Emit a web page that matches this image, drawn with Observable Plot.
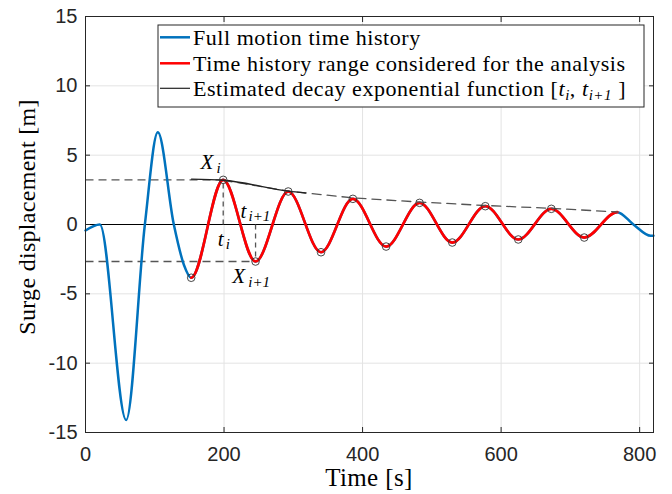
<!DOCTYPE html>
<html><head><meta charset="utf-8">
<script src="https://cdn.jsdelivr.net/npm/d3@7"></script>
<script src="https://cdn.jsdelivr.net/npm/@observablehq/plot@0.6"></script>
<style>
html,body{margin:0;padding:0;background:#fff;}
#chart{width:672px;height:494px;}
</style></head><body><div id="chart"></div>
<script>
// ---- data ----
const fullT = [0, 20.7, 58.7, 85.7, 104.4, 127.5, 142, 152.6, 198.8, 245.5, 292.7, 340, 386, 434, 482.3, 529.5, 577.2, 624.8, 672.5, 720, 767.7, 791, 816, 820];
const fullV = [-0.43, 0.0, -14.1, 0.0, 6.65, 0.0, -2.9, -3.84, 3.22, -2.67, 2.38, -2.0, 1.85, -1.59, 1.56, -1.30, 1.32, -1.08, 1.13, -0.94, 0.89, 0.0, -0.82, -0.81];
const redT = [152.6, 198.8, 245.5, 292.7, 340, 386, 434, 482.3, 529.5, 577.2, 624.8, 672.5, 720, 767.7];
const redV = [-3.84, 3.22, -2.67, 2.38, -2.0, 1.85, -1.59, 1.56, -1.30, 1.32, -1.08, 1.13, -0.94, 0.89];
const circT = [152.6, 198.8, 245.5, 292.7, 340, 386, 434, 482.3, 529.5, 577.2, 624.8, 672.5, 720];
const circV = [-3.84, 3.22, -2.67, 2.38, -2.0, 1.85, -1.59, 1.56, -1.30, 1.32, -1.08, 1.13, -0.94];
const decayT = [153, 198.8, 292.7, 317.7];
const decayV = [3.27, 3.19, 2.41, 2.27];
const envT = [198.8, 292.7, 386, 482.3, 577.2, 672.5, 767.7];
const envV = [3.19, 2.41, 1.92, 1.62, 1.37, 1.17, 0.90];
const hDashV = [3.22, -2.67];
const hDashT1 = [0, 0];
const hDashT2 = [198.8, 245.5];
const vDashT = [198.8, 245.5];
const vDashV1 = [0, 0];
const vDashV2 = [3.22, -2.67];
const annMain = ["X", "t", "t", "X"];
const annSub = ["i", "i+1", "i", "i+1"];
const annT = [166, 223.8, 191, 211.8];
const annV = [4.46, 0.94, -1.08, -3.71];
const xTicks = [0, 200, 400, 600, 800];
const yTicks = [-15, -10, -5, 0, 5, 10, 15];
const legendLabels = ["Full motion time history", "Time history range considered for the analysis", "Estimated decay exponential function "];
const xTitle = "Time [s]";
const yTitle = "Surge displacement [m]";

// ---- tables ----
const full = fullT.map((t, i) => ({t, v: fullV[i]}));
const red = redT.map((t, i) => ({t, v: redV[i]}));
const circ = circT.map((t, i) => ({t, v: circV[i]}));
const decay = decayT.map((t, i) => ({t, v: decayV[i]}));
const env = envT.map((t, i) => ({t, v: envV[i]}));
const hDash = hDashV.map((v, i) => ({v, t1: hDashT1[i], t2: hDashT2[i]}));
const vDash = vDashT.map((t, i) => ({t, v1: vDashV1[i], v2: vDashV2[i]}));
const ann = annMain.map((m, i) => ({main: m, sub: annSub[i], t: annT[i], v: annV[i]}));

// smooth curve through extrema (horizontal tangent at every point, same as monotone-x at extrema)
function curveExtrema(context) {
  let x0, y0, n = 0;
  return {
    areaStart() {}, areaEnd() {},
    lineStart() { n = 0; },
    lineEnd() {},
    point(x, y) {
      x = +x; y = +y;
      if (n === 0) context.moveTo(x, y);
      else { const h = (x - x0) / 3; context.bezierCurveTo(x0 + h, y0, x - h, y, x, y); }
      x0 = x; y0 = y; n++;
    }
  };
}

const SERIF = "'Liberation Serif', 'Times New Roman', serif";
const SANS = "'Liberation Sans', Arial, Helvetica, sans-serif";
const BLUE = "#0072BD", RED = "#FF0000", AX = "#262626", GRID = "#e3e3e3", DASH = "#555";

const plot = Plot.plot({
  width: 672, height: 494,
  marginLeft: 85, marginRight: 19, marginTop: 16, marginBottom: 62,
  x: {domain: [0, 820]},
  y: {domain: [-15, 15]},
  style: {background: "#fff", overflow: "visible"},
  marks: [
    Plot.gridX(xTicks, {stroke: GRID, strokeOpacity: 1}),
    Plot.gridY(yTicks, {stroke: GRID, strokeOpacity: 1}),
    Plot.ruleY([0], {stroke: "#000", strokeWidth: 1}),
    Plot.link(hDash, {x1: "t1", x2: "t2", y1: "v", y2: "v", stroke: DASH, strokeWidth: 1.3, strokeDasharray: "8,5"}),
    Plot.link(vDash, {x1: "t", x2: "t", y1: "v1", y2: "v2", stroke: DASH, strokeWidth: 1.3, strokeDasharray: "5,4"}),
    Plot.line(full, {x: "t", y: "v", stroke: BLUE, strokeWidth: 2.5, curve: "monotone-x"}),
    Plot.line(red, {x: "t", y: "v", stroke: RED, strokeWidth: 2.7, curve: curveExtrema}),
    Plot.line(env, {x: "t", y: "v", stroke: DASH, strokeWidth: 1.3, strokeDasharray: "9,6"}),
    Plot.line(decay, {x: "t", y: "v", stroke: "#222", strokeWidth: 1.3, curve: "monotone-x"}),
    Plot.dot(circ, {x: "t", y: "v", r: 3.8, stroke: "#333", strokeWidth: 0.9, fill: "none"}),
    Plot.text(ann, {x: "t", y: "v", text: "main", textAnchor: "start", fontStyle: "italic", fontFamily: SERIF, fontSize: 21, fill: "#000"}),
    Plot.text(ann.filter(d => d.main === "X"), {x: "t", y: "v", text: "sub", textAnchor: "start", dx: 16, dy: 6, fontStyle: "italic", fontFamily: SERIF, fontSize: 15, fill: "#000"}),
    Plot.text(ann.filter(d => d.main === "t"), {x: "t", y: "v", text: "sub", textAnchor: "start", dx: 8, dy: 5, fontStyle: "italic", fontFamily: SERIF, fontSize: 15, fill: "#000"}),
    Plot.frame({stroke: AX, strokeWidth: 1}),
    // inner tick marks on all four sides
    Plot.axisX({anchor: "bottom", ticks: xTicks, tickSize: 5, dy: -5, tickFormat: () => "", label: null, stroke: AX}),
    Plot.axisX({anchor: "top", ticks: xTicks, tickSize: 5, dy: 5, tickFormat: () => "", label: null, stroke: AX}),
    Plot.axisY({anchor: "left", ticks: yTicks, tickSize: 5, dx: 5, tickFormat: () => "", label: null, stroke: AX}),
    Plot.axisY({anchor: "right", ticks: yTicks, tickSize: 5, dx: -5, tickFormat: () => "", label: null, stroke: AX}),
    // tick labels
    Plot.axisX({anchor: "bottom", ticks: xTicks, tickSize: 0, tickPadding: 14, tickFormat: d => `${d}`, label: null, fontSize: 20, fontFamily: SANS, fill: AX}),
    Plot.axisY({anchor: "left", ticks: yTicks, tickSize: 0, tickPadding: 8, tickFormat: d => `${d}`, label: null, fontSize: 20, fontFamily: SANS, fill: AX})
  ]
});

const svg = d3.select(plot);
// axis titles
svg.append("text").attr("x", 369).attr("y", 486).attr("text-anchor", "middle")
  .attr("font-family", SERIF).attr("font-size", 25).attr("letter-spacing", 0.4).attr("fill", "#000").text(xTitle);
svg.append("text").attr("transform", "translate(35,217) rotate(-90)").attr("text-anchor", "middle")
  .attr("font-family", SERIF).attr("font-size", 24).attr("letter-spacing", 0.3).attr("fill", "#000").text(yTitle);

// legend
const lg = svg.append("g").attr("text-anchor", "start");
lg.append("rect").attr("x", 158).attr("y", 25).attr("width", 486).attr("height", 82)
  .attr("fill", "#fff").attr("stroke", AX).attr("stroke-width", 1);
const rowsY = [37.3, 63.3, 88.3];
const rowStroke = [BLUE, RED, "#222"];
const rowW = [2.5, 2.5, 1.2];
rowsY.forEach((y, i) => {
  lg.append("line").attr("x1", 160).attr("x2", 190).attr("y1", y).attr("y2", y)
    .attr("stroke", rowStroke[i]).attr("stroke-width", rowW[i]);
  const t = lg.append("text").attr("x", 193).attr("y", y + 7.5).attr("text-anchor", "start")
    .attr("font-family", SERIF).attr("font-size", 22).attr("letter-spacing", 0.55).attr("fill", "#000");
  t.append("tspan").text(legendLabels[i]);
  if (i === 2) {
    t.append("tspan").text("[");
    t.append("tspan").attr("font-style", "italic").text("t");
    t.append("tspan").attr("font-style", "italic").attr("font-size", 15).attr("dy", 4).text("i");
    t.append("tspan").attr("dy", -4).text(", ");
    t.append("tspan").attr("font-style", "italic").text("t");
    t.append("tspan").attr("font-style", "italic").attr("font-size", 15).attr("dy", 4).text("i+1");
    t.append("tspan").attr("dy", -4).text(" ]");
  }
});

document.getElementById("chart").appendChild(plot);
</script>
</body></html>
